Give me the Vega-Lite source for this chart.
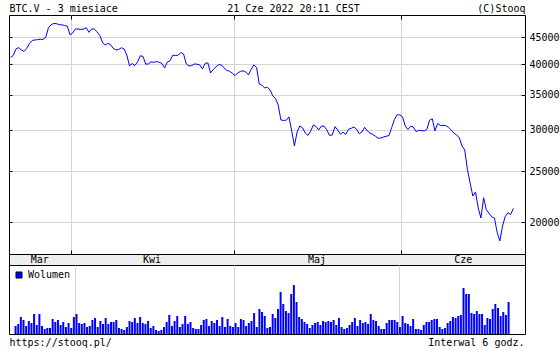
{
"$schema": "https://vega.github.io/schema/vega-lite/v6.json",
"background": "white",
"padding": {"left": 8, "top": 2, "right": 0, "bottom": 0},
"spacing": 0,
"bounds": "flush",
"config": {
  "font": "DejaVu Sans Mono",
  "view": {"stroke": "#000000", "strokeWidth": 1},
  "axis": {"labelFont": "DejaVu Sans Mono", "labelFontSize": 10, "labelColor": "#000000", "titleFont": "DejaVu Sans Mono", "titleFontSize": 10, "titleFontWeight": "normal", "titleColor": "#000000", "tickColor": "#000000", "tickWidth": 1, "gridColor": "#d4d4d4", "gridWidth": 1, "domain": false},
  "text": {"font": "DejaVu Sans Mono"}
},
"datasets": {
"px": [
{"t":"2022-03-20T18:00","c":41210,"v":8},
{"t":"2022-03-21T06:00","c":41570,"v":10},
{"t":"2022-03-21T18:00","c":42770,"v":17},
{"t":"2022-03-22T06:00","c":43020,"v":14},
{"t":"2022-03-22T18:00","c":42580,"v":8},
{"t":"2022-03-23T06:00","c":42300,"v":13},
{"t":"2022-03-23T18:00","c":42900,"v":11},
{"t":"2022-03-24T06:00","c":43820,"v":20},
{"t":"2022-03-24T18:00","c":44390,"v":9},
{"t":"2022-03-25T06:00","c":44490,"v":20},
{"t":"2022-03-25T18:00","c":44550,"v":8},
{"t":"2022-03-26T06:00","c":44630,"v":5},
{"t":"2022-03-26T18:00","c":44590,"v":6},
{"t":"2022-03-27T06:00","c":45020,"v":6},
{"t":"2022-03-27T18:00","c":46940,"v":15},
{"t":"2022-03-28T06:00","c":47570,"v":12},
{"t":"2022-03-28T18:00","c":47830,"v":14},
{"t":"2022-03-29T06:00","c":47790,"v":9},
{"t":"2022-03-29T18:00","c":47580,"v":12},
{"t":"2022-03-30T06:00","c":47540,"v":7},
{"t":"2022-03-30T18:00","c":47410,"v":11},
{"t":"2022-03-31T06:00","c":47270,"v":6},
{"t":"2022-03-31T18:00","c":45480,"v":17},
{"t":"2022-04-01T06:00","c":45890,"v":20},
{"t":"2022-04-01T18:00","c":46710,"v":11},
{"t":"2022-04-02T06:00","c":46650,"v":10},
{"t":"2022-04-02T18:00","c":46610,"v":11},
{"t":"2022-04-03T06:00","c":46650,"v":7},
{"t":"2022-04-03T18:00","c":46940,"v":8},
{"t":"2022-04-04T06:00","c":46000,"v":14},
{"t":"2022-04-04T18:00","c":46710,"v":16},
{"t":"2022-04-05T06:00","c":46650,"v":7},
{"t":"2022-04-05T18:00","c":46100,"v":13},
{"t":"2022-04-06T06:00","c":45380,"v":10},
{"t":"2022-04-06T18:00","c":44000,"v":16},
{"t":"2022-04-07T06:00","c":43530,"v":10},
{"t":"2022-04-07T18:00","c":43820,"v":12},
{"t":"2022-04-08T06:00","c":43590,"v":12},
{"t":"2022-04-08T18:00","c":42860,"v":14},
{"t":"2022-04-09T06:00","c":42580,"v":6},
{"t":"2022-04-09T18:00","c":42680,"v":5},
{"t":"2022-04-10T06:00","c":43000,"v":4},
{"t":"2022-04-10T18:00","c":42770,"v":7},
{"t":"2022-04-11T06:00","c":41660,"v":13},
{"t":"2022-04-11T18:00","c":39700,"v":12},
{"t":"2022-04-12T06:00","c":40130,"v":16},
{"t":"2022-04-12T18:00","c":39770,"v":11},
{"t":"2022-04-13T06:00","c":40440,"v":17},
{"t":"2022-04-13T18:00","c":41510,"v":11},
{"t":"2022-04-14T06:00","c":41380,"v":10},
{"t":"2022-04-14T18:00","c":40000,"v":13},
{"t":"2022-04-15T06:00","c":40060,"v":6},
{"t":"2022-04-15T18:00","c":40420,"v":8},
{"t":"2022-04-16T06:00","c":40330,"v":4},
{"t":"2022-04-16T18:00","c":40480,"v":3},
{"t":"2022-04-17T06:00","c":40330,"v":4},
{"t":"2022-04-17T18:00","c":40150,"v":7},
{"t":"2022-04-18T06:00","c":39350,"v":12},
{"t":"2022-04-18T18:00","c":40420,"v":19},
{"t":"2022-04-19T06:00","c":40600,"v":8},
{"t":"2022-04-19T18:00","c":41610,"v":13},
{"t":"2022-04-20T06:00","c":41570,"v":18},
{"t":"2022-04-20T18:00","c":41610,"v":7},
{"t":"2022-04-21T06:00","c":42120,"v":10},
{"t":"2022-04-21T18:00","c":41840,"v":18},
{"t":"2022-04-22T06:00","c":40060,"v":10},
{"t":"2022-04-22T18:00","c":39700,"v":12},
{"t":"2022-04-23T06:00","c":39750,"v":6},
{"t":"2022-04-23T18:00","c":40050,"v":5},
{"t":"2022-04-24T06:00","c":40000,"v":5},
{"t":"2022-04-24T18:00","c":39880,"v":9},
{"t":"2022-04-25T06:00","c":39180,"v":14},
{"t":"2022-04-25T18:00","c":40150,"v":15},
{"t":"2022-04-26T06:00","c":40230,"v":8},
{"t":"2022-04-26T18:00","c":38500,"v":13},
{"t":"2022-04-27T06:00","c":39100,"v":11},
{"t":"2022-04-27T18:00","c":39530,"v":14},
{"t":"2022-04-28T06:00","c":39930,"v":8},
{"t":"2022-04-28T18:00","c":39880,"v":17},
{"t":"2022-04-29T06:00","c":39350,"v":7},
{"t":"2022-04-29T18:00","c":38920,"v":15},
{"t":"2022-04-30T06:00","c":38790,"v":8},
{"t":"2022-04-30T18:00","c":38470,"v":7},
{"t":"2022-05-01T06:00","c":38060,"v":11},
{"t":"2022-05-01T18:00","c":38470,"v":7},
{"t":"2022-05-02T06:00","c":38750,"v":15},
{"t":"2022-05-02T18:00","c":38870,"v":14},
{"t":"2022-05-03T06:00","c":38670,"v":8},
{"t":"2022-05-03T18:00","c":38170,"v":11},
{"t":"2022-05-04T06:00","c":39100,"v":13},
{"t":"2022-05-04T18:00","c":39880,"v":21},
{"t":"2022-05-05T06:00","c":39440,"v":7},
{"t":"2022-05-05T18:00","c":36680,"v":25},
{"t":"2022-05-06T06:00","c":36470,"v":22},
{"t":"2022-05-06T18:00","c":36040,"v":18},
{"t":"2022-05-07T06:00","c":36150,"v":6},
{"t":"2022-05-07T18:00","c":35730,"v":7},
{"t":"2022-05-08T06:00","c":34810,"v":20},
{"t":"2022-05-08T18:00","c":34430,"v":16},
{"t":"2022-05-09T06:00","c":33450,"v":25},
{"t":"2022-05-09T18:00","c":31320,"v":42},
{"t":"2022-05-10T06:00","c":31250,"v":30},
{"t":"2022-05-10T18:00","c":31300,"v":23},
{"t":"2022-05-11T06:00","c":31740,"v":21},
{"t":"2022-05-11T18:00","c":29850,"v":40},
{"t":"2022-05-12T06:00","c":27950,"v":49},
{"t":"2022-05-12T18:00","c":29720,"v":32},
{"t":"2022-05-13T06:00","c":30510,"v":17},
{"t":"2022-05-13T18:00","c":30270,"v":15},
{"t":"2022-05-14T06:00","c":29590,"v":12},
{"t":"2022-05-14T18:00","c":29270,"v":10},
{"t":"2022-05-15T06:00","c":29820,"v":6},
{"t":"2022-05-15T18:00","c":30640,"v":9},
{"t":"2022-05-16T06:00","c":30440,"v":11},
{"t":"2022-05-16T18:00","c":29980,"v":12},
{"t":"2022-05-17T06:00","c":30510,"v":9},
{"t":"2022-05-17T18:00","c":30480,"v":13},
{"t":"2022-05-18T06:00","c":29980,"v":12},
{"t":"2022-05-18T18:00","c":29270,"v":13},
{"t":"2022-05-19T06:00","c":29330,"v":12},
{"t":"2022-05-19T18:00","c":30420,"v":14},
{"t":"2022-05-20T06:00","c":29980,"v":9},
{"t":"2022-05-20T18:00","c":29420,"v":16},
{"t":"2022-05-21T06:00","c":29680,"v":7},
{"t":"2022-05-21T18:00","c":29400,"v":5},
{"t":"2022-05-22T06:00","c":30080,"v":6},
{"t":"2022-05-22T18:00","c":30200,"v":9},
{"t":"2022-05-23T06:00","c":30370,"v":12},
{"t":"2022-05-23T18:00","c":30070,"v":16},
{"t":"2022-05-24T06:00","c":29480,"v":8},
{"t":"2022-05-24T18:00","c":29720,"v":14},
{"t":"2022-05-25T06:00","c":30330,"v":11},
{"t":"2022-05-25T18:00","c":29850,"v":12},
{"t":"2022-05-26T06:00","c":29560,"v":10},
{"t":"2022-05-26T18:00","c":29400,"v":20},
{"t":"2022-05-27T06:00","c":29160,"v":14},
{"t":"2022-05-27T18:00","c":28910,"v":13},
{"t":"2022-05-28T06:00","c":28950,"v":8},
{"t":"2022-05-28T18:00","c":29080,"v":5},
{"t":"2022-05-29T06:00","c":29160,"v":5},
{"t":"2022-05-29T18:00","c":29270,"v":11},
{"t":"2022-05-30T06:00","c":30320,"v":14},
{"t":"2022-05-30T18:00","c":31390,"v":14},
{"t":"2022-05-31T06:00","c":32050,"v":14},
{"t":"2022-05-31T18:00","c":32020,"v":12},
{"t":"2022-06-01T06:00","c":31740,"v":7},
{"t":"2022-06-01T18:00","c":30510,"v":18},
{"t":"2022-06-02T06:00","c":30040,"v":11},
{"t":"2022-06-02T18:00","c":30460,"v":10},
{"t":"2022-06-03T06:00","c":30370,"v":8},
{"t":"2022-06-03T18:00","c":29770,"v":15},
{"t":"2022-06-04T06:00","c":29940,"v":5},
{"t":"2022-06-04T18:00","c":29900,"v":5},
{"t":"2022-06-05T06:00","c":29850,"v":4},
{"t":"2022-06-05T18:00","c":30040,"v":9},
{"t":"2022-06-06T06:00","c":31280,"v":12},
{"t":"2022-06-06T18:00","c":31490,"v":12},
{"t":"2022-06-07T06:00","c":29850,"v":14},
{"t":"2022-06-07T18:00","c":30850,"v":15},
{"t":"2022-06-08T06:00","c":30580,"v":15},
{"t":"2022-06-08T18:00","c":30590,"v":7},
{"t":"2022-06-09T06:00","c":30560,"v":5},
{"t":"2022-06-09T18:00","c":30330,"v":6},
{"t":"2022-06-10T06:00","c":29980,"v":11},
{"t":"2022-06-10T18:00","c":29560,"v":13},
{"t":"2022-06-11T06:00","c":29330,"v":17},
{"t":"2022-06-11T18:00","c":28950,"v":16},
{"t":"2022-06-12T06:00","c":27950,"v":18},
{"t":"2022-06-12T18:00","c":27460,"v":19},
{"t":"2022-06-13T06:00","c":25210,"v":46},
{"t":"2022-06-13T18:00","c":23760,"v":40},
{"t":"2022-06-14T06:00","c":22440,"v":40},
{"t":"2022-06-14T18:00","c":22840,"v":21},
{"t":"2022-06-15T06:00","c":21290,"v":20},
{"t":"2022-06-15T18:00","c":20380,"v":23},
{"t":"2022-06-16T06:00","c":22260,"v":20},
{"t":"2022-06-16T18:00","c":21110,"v":20},
{"t":"2022-06-17T06:00","c":20810,"v":9},
{"t":"2022-06-17T18:00","c":20480,"v":16},
{"t":"2022-06-18T06:00","c":20380,"v":15},
{"t":"2022-06-18T18:00","c":19130,"v":25},
{"t":"2022-06-19T06:00","c":18430,"v":30},
{"t":"2022-06-19T18:00","c":19680,"v":26},
{"t":"2022-06-20T06:00","c":20510,"v":18},
{"t":"2022-06-20T18:00","c":20850,"v":22},
{"t":"2022-06-21T06:00","c":20690,"v":19},
{"t":"2022-06-21T18:00","c":21250,"v":32}
],
"months": [
{"m":"Mar","t":"2022-03-26T04:00"},
{"m":"Kwi","t":"2022-04-15T22:00"},
{"m":"Maj","t":"2022-05-16T10:00"},
{"m":"Cze","t":"2022-06-12T12:00"}
]
},
"resolve": {"scale": {"x": "independent", "y": "independent", "color": "independent"}, "legend": {"color": "independent"}},
"vconcat": [
{
  "width": 516, "height": 239,
  "data": {"name": "px"},
  "layer": [
    {
      "mark": {"type": "line", "color": "#0000ff", "strokeWidth": 1},
      "encoding": {
        "x": {"field": "t", "type": "temporal",
          "scale": {"domain": [{"year":2022,"month":3,"date":20,"hours":11}, {"year":2022,"month":6,"date":23,"hours":21,"minutes":40}]},
          "axis": {"orient": "top", "values": [{"year":2022,"month":4,"date":1},{"year":2022,"month":5,"date":1},{"year":2022,"month":6,"date":1}], "labels": false, "tickSize": -4, "grid": true, "title": "21 Cze 2022 20:11 CEST", "titleX": 284, "titleY": -4, "titleAlign": "center", "titleBaseline": "alphabetic"}},
        "y": {"field": "c", "type": "quantitative",
          "scale": {"type": "log", "domain": [17400, 49640], "nice": false},
          "axis": {"orient": "right", "values": [20000,25000,30000,35000,40000,45000], "format": "d", "tickSize": -4, "labelPadding": 8, "grid": true, "title": "(C)Stooq", "titleAngle": 0, "titleX": 0, "titleY": -4, "titleAlign": "right", "titleBaseline": "alphabetic"}}
      }
    },
    {
      "mark": {"type": "line", "opacity": 0},
      "encoding": {
        "x": {"field": "t", "type": "temporal",
          "scale": {"domain": [{"year":2022,"month":3,"date":20,"hours":11}, {"year":2022,"month":6,"date":23,"hours":21,"minutes":40}]},
          "axis": {"orient": "bottom", "values": [{"year":2022,"month":4,"date":1},{"year":2022,"month":5,"date":1},{"year":2022,"month":6,"date":1}], "labels": false, "tickSize": -4, "grid": false, "title": null}},
        "y": {"field": "c", "type": "quantitative",
          "scale": {"type": "log", "domain": [17400, 49640], "nice": false},
          "axis": {"orient": "left", "values": [20000,25000,30000,35000,40000,45000], "labels": false, "tickSize": -3, "grid": false, "title": "BTC.V - 3 miesiace", "titleAngle": 0, "titleX": 0, "titleY": -4, "titleAlign": "left", "titleBaseline": "alphabetic"}}
      }
    }
  ],
  "resolve": {"axis": {"x": "independent", "y": "independent"}}
},
{
  "width": 516, "height": 11,
  "view": {"fill": "#eeeeee", "stroke": "#000000"},
  "data": {"name": "months"},
  "mark": {"type": "text", "fontSize": 10, "color": "#000000", "baseline": "middle", "align": "center", "font": "DejaVu Sans Mono"},
  "encoding": {
    "x": {"field": "t", "type": "temporal",
      "scale": {"domain": [{"year":2022,"month":3,"date":20,"hours":11}, {"year":2022,"month":6,"date":23,"hours":21,"minutes":40}]},
      "axis": null},
    "text": {"field": "m"}
  }
},
{
  "width": 516, "height": 69,
  "data": {"name": "px"},
  "mark": {"type": "bar", "width": 2},
  "encoding": {
    "x": {"field": "t", "type": "temporal",
      "scale": {"domain": [{"year":2022,"month":3,"date":20,"hours":11}, {"year":2022,"month":6,"date":23,"hours":21,"minutes":40}]},
      "axis": {"orient": "bottom", "values": [{"year":2022,"month":4,"date":1},{"year":2022,"month":5,"date":1},{"year":2022,"month":6,"date":1}], "labels": false, "ticks": false, "grid": true, "title": "https://stooq.pl/", "titleX": 0, "titleY": 11, "titleAlign": "left", "titleBaseline": "alphabetic"}},
    "y": {"field": "v", "type": "quantitative",
      "scale": {"domain": [0, 69], "nice": false},
      "axis": {"orient": "right", "labels": false, "ticks": false, "grid": false, "title": "Interwal 6 godz.", "titleAngle": 0, "titleX": -1, "titleY": 80, "titleAlign": "right", "titleBaseline": "alphabetic"}},
    "color": {"datum": "Wolumen", "type": "nominal",
      "scale": {"range": ["#0000ff"]},
      "legend": {"orient": "top-left", "title": null, "offset": 5, "padding": 0, "symbolType": "square", "symbolSize": 36, "symbolStrokeColor": "#000000", "symbolStrokeWidth": 1, "labelFont": "DejaVu Sans Mono", "labelFontSize": 10, "labelColor": "#000000", "labelOffset": 4}}
  }
}
]
}
